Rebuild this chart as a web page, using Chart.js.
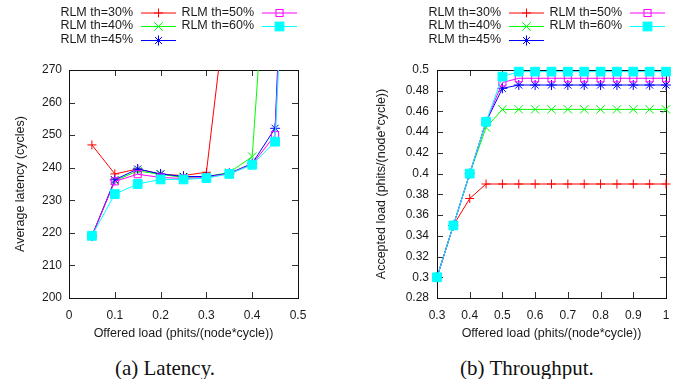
<!DOCTYPE html>
<html>
<head>
<meta charset="utf-8">
<script src="https://cdn.jsdelivr.net/npm/chart.js@4.4.1/dist/chart.umd.min.js"></script>
<style>
body { margin: 0; background: #fff; width: 689px; height: 379px; overflow: hidden; position: relative; }
canvas { position: absolute; top: 0; }
#latency { left: 0; }
#throughput { left: 345px; }
.caption { position: absolute; top: 356px; width: 200px; text-align: center; font-family: "Liberation Serif", "Times New Roman", serif; font-size: 21px; line-height: 24px; color: #111; }
</style>
</head>
<body>
<canvas id="latency" width="345" height="345"></canvas>
<canvas id="throughput" width="344" height="345"></canvas>
<div class="caption" style="left:65px">(a) Latency.</div>
<div class="caption" style="left:427px">(b) Throughput.</div>
<script>
// series names, shared by both plots
const seriesLabels = ['RLM th=30%', 'RLM th=40%', 'RLM th=45%', 'RLM th=50%', 'RLM th=60%'];

// (a) latency vs offered load
const latencyLoad = [0.05, 0.1, 0.15, 0.2, 0.25, 0.3, 0.35, 0.4, 0.45, 0.5];
const latency30 = [247, 238.1, 239.6, 238, 237.6, 238.6, 298];
const latency40 = [219, 236, 239, 238, 237, 237.3, 238.5, 243.4, 345];
const latency45 = [219, 236.3, 239.6, 238.1, 237.3, 237.3, 238.3, 241.3, 252.1, 420];
const latency50 = [219, 235.8, 238, 237, 236.7, 237, 238.2, 241, 250, 410];
const latency60 = [219.1, 231.9, 235, 236.4, 236.4, 236.8, 238.1, 240.9, 248, 400];

// (b) accepted load vs offered load
const throughputLoad = [0.3, 0.35, 0.4, 0.45, 0.5, 0.55, 0.6, 0.65, 0.7, 0.75, 0.8, 0.85, 0.9, 0.95, 1.0];
const accepted30 = [0.3, 0.35, 0.376, 0.39, 0.39, 0.39, 0.39, 0.39, 0.39, 0.39, 0.39, 0.39, 0.39, 0.39, 0.39];
const accepted40 = [0.3, 0.35, 0.4, 0.4445, 0.462, 0.462, 0.462, 0.462, 0.462, 0.462, 0.462, 0.462, 0.462, 0.462, 0.462];
const accepted45 = [0.3, 0.35, 0.4, 0.45, 0.4823, 0.4855, 0.4855, 0.4855, 0.4855, 0.4855, 0.4855, 0.4855, 0.4855, 0.4855, 0.4855];
const accepted50 = [0.3, 0.35, 0.4, 0.45, 0.488, 0.492, 0.492, 0.492, 0.492, 0.492, 0.492, 0.492, 0.492, 0.492, 0.492];
const accepted60 = [0.3, 0.35, 0.4, 0.45, 0.4936, 0.4984, 0.4984, 0.4984, 0.4984, 0.4984, 0.4984, 0.4984, 0.4984, 0.4984, 0.4984];

// gnuplot-ish look
const colors = ['#ff0000', '#00ff00', '#0000ff', '#ff00ff', '#00ffff'];
const markers = ['cross', 'crossRot', 'star', 'rect', 'rect'];
const markerRadius = [4.5, 6, 5, 5, 6.2];
const markerFill = ['transparent', 'transparent', 'transparent', 'transparent', '#00ffff'];

Chart.defaults.font.family = '"Liberation Sans", Arial, sans-serif';
Chart.defaults.color = '#1a1a1a';

function toPoints(xs, ys) {
    return ys.map((v, i) => ({ x: xs[i], y: v }));
}

function makeDatasets(xs, series, clip) {
    return series.map((ys, i) => ({
        label: seriesLabels[i],
        data: toPoints(xs, ys),
        borderColor: colors[i],
        backgroundColor: colors[i],
        borderWidth: 1,
        pointStyle: markers[i],
        pointRadius: markerRadius[i],
        pointBorderWidth: 1,
        pointBorderColor: colors[i],
        pointBackgroundColor: markerFill[i],
        tension: 0,
        clip: clip,
        order: 4 - i, // last series on top, like gnuplot
    }));
}

function drawMarker(ctx, style, x, y, r, color, fill) {
    ctx.save();
    ctx.strokeStyle = color;
    ctx.lineWidth = 1;
    ctx.beginPath();
    if (style === 'cross' || style === 'star') {
        ctx.moveTo(x - r, y); ctx.lineTo(x + r, y);
        ctx.moveTo(x, y - r); ctx.lineTo(x, y + r);
    }
    if (style === 'crossRot' || style === 'star') {
        const d = r * Math.SQRT1_2;
        ctx.moveTo(x - d, y - d); ctx.lineTo(x + d, y + d);
        ctx.moveTo(x - d, y + d); ctx.lineTo(x + d, y - d);
    }
    ctx.stroke();
    if (style === 'rect') {
        const s = r * Math.SQRT1_2;
        if (fill !== 'transparent') {
            ctx.fillStyle = fill;
            ctx.fillRect(x - s, y - s, 2 * s, 2 * s);
        }
        ctx.strokeRect(x - s, y - s, 2 * s, 2 * s);
    }
    ctx.restore();
}

// key in the top right, text right-justified then sample, two columns
const keyPlugin = {
    id: 'gnuKey',
    afterDraw(chart) {
        const ctx = chart.ctx;
        const R = chart.chartArea.right;
        const rows = [12.5, 26, 40];
        ctx.save();
        ctx.font = '12.5px "Liberation Sans", Arial, sans-serif';
        ctx.fillStyle = '#1a1a1a';
        ctx.textAlign = 'right';
        ctx.textBaseline = 'middle';
        chart.data.datasets.forEach((ds, i) => {
            const col = i < 3 ? 0 : 1;
            const y = rows[i < 3 ? i : i - 3];
            const textEnd = col === 0 ? R - 165 : R - 44;
            const x0 = col === 0 ? R - 157 : R - 36;
            const x1 = x0 + 35;
            ctx.fillText(ds.label, textEnd, y);
            ctx.strokeStyle = ds.borderColor;
            ctx.lineWidth = 1;
            ctx.beginPath();
            ctx.moveTo(x0, y + 0.5);
            ctx.lineTo(x1, y + 0.5);
            ctx.stroke();
            drawMarker(ctx, ds.pointStyle, (x0 + x1) / 2, y + 0.5, ds.pointRadius, ds.borderColor, ds.pointBackgroundColor);
        });
        ctx.restore();
    }
};

// closed frame with inward ticks on all four sides
const framePlugin = {
    id: 'frame',
    beforeDatasetsDraw(chart) {
        const { ctx, chartArea: a, scales } = chart;
        const len = 6;
        ctx.save();
        ctx.strokeStyle = '#333';
        ctx.lineWidth = 1;
        ctx.beginPath();
        scales.x.ticks.forEach(t => {
            const px = Math.round(scales.x.getPixelForValue(t.value)) + 0.5;
            ctx.moveTo(px, a.bottom); ctx.lineTo(px, a.bottom - len);
            ctx.moveTo(px, a.top); ctx.lineTo(px, a.top + len);
        });
        scales.y.ticks.forEach(t => {
            const py = Math.round(scales.y.getPixelForValue(t.value)) + 0.5;
            ctx.moveTo(a.left, py); ctx.lineTo(a.left + len, py);
            ctx.moveTo(a.right, py); ctx.lineTo(a.right - len, py);
        });
        ctx.stroke();
        ctx.strokeStyle = '#111';
        ctx.strokeRect(Math.round(a.left) + 0.5, Math.round(a.top) + 0.5,
            Math.round(a.right - a.left), Math.round(a.bottom - a.top));
        ctx.restore();
    }
};

function fmt(v) {
    return String(Math.round(v * 1000) / 1000);
}

function makeOptions(o) {
    return {
        responsive: false,
        animation: false,
        layout: { padding: { top: 70, right: o.padRight, left: 0, bottom: 0 } },
        plugins: { legend: { display: false }, tooltip: { enabled: false } },
        scales: {
            x: {
                type: 'linear',
                min: o.xMin, max: o.xMax,
                grid: { display: false, drawTicks: false },
                border: { display: false },
                ticks: { stepSize: 0.1, padding: 10, font: { size: 12 }, callback: fmt, maxRotation: 0 },
                title: { display: true, text: 'Offered load (phits/(node*cycle))', font: { size: 12.5 }, padding: { top: 0, bottom: 4 } },
                afterFit: (s) => { s.height = 47; },
            },
            y: {
                type: 'linear',
                min: o.yMin, max: o.yMax,
                grid: { display: false, drawTicks: false },
                border: { display: false },
                ticks: { stepSize: o.yStep, padding: o.yTickPad, font: { size: 12 }, callback: fmt },
                title: { display: true, text: o.yTitle, font: { size: 12.5 }, padding: { top: o.yTitlePad, bottom: 0 } },
                afterFit: (s) => { s.width = o.yWidth; },
            },
        },
    };
}

new Chart(document.getElementById('latency'), {
    type: 'line',
    data: {
        datasets: makeDatasets(latencyLoad, [latency30, latency40, latency45, latency50, latency60],
            { left: 8, right: 8, top: 0, bottom: 8 }),
    },
    options: makeOptions({
        xMin: 0, xMax: 0.5, yMin: 200, yMax: 270, yStep: 10,
        yTitle: 'Average latency (cycles)', yTitlePad: 13, yWidth: 69, yTickPad: 7, padRight: 47,
    }),
    plugins: [framePlugin, keyPlugin],
});

new Chart(document.getElementById('throughput'), {
    type: 'line',
    data: {
        datasets: makeDatasets(throughputLoad, [accepted30, accepted40, accepted45, accepted50, accepted60], 8),
    },
    options: makeOptions({
        xMin: 0.3, xMax: 1, yMin: 0.28, yMax: 0.5, yStep: 0.02,
        yTitle: 'Accepted load (phits/(node*cycle))', yTitlePad: 29, yWidth: 92, yTickPad: 8, padRight: 23,
    }),
    plugins: [framePlugin, keyPlugin],
});
</script>
</body>
</html>
